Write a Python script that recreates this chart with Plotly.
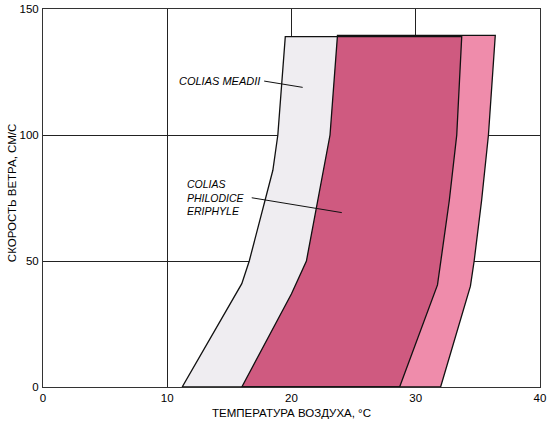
import plotly.graph_objects as go

# --- data ---
meadii_left_x = [11.2, 16.0, 16.6, 17.9, 18.5, 18.9, 19.2, 19.5]
meadii_left_y = [0, 41, 50, 74, 86, 100, 119, 139]
meadii_right_x = [28.7, 31.75, 32.0, 32.7, 33.3, 33.7]
meadii_right_y = [0, 40.5, 50, 74, 100, 139]

philo_left_x = [16.0, 20.0, 21.2, 22.1, 23.1, 23.7]
philo_left_y = [0, 37, 50, 74, 100, 139.5]
philo_right_x = [32.0, 34.4, 34.7, 35.3, 35.85, 36.4]
philo_right_y = [0, 40, 50, 74, 100, 139.5]

x_ticks = [0, 10, 20, 30, 40]
y_ticks = [0, 50, 100, 150]

label_meadii = "COLIAS MEADII"
label_meadii_pos = (17.6, 121.4)
label_meadii_line = ([17.8, 20.9], [121.4, 118.9])

label_philo = "COLIAS<br>PHILODICE<br>ERIPHYLE"
label_philo_pos = (11.4, 75.1)
label_philo_line = ([16.8, 24.05], [75.1, 69.2])

x_title = "ТЕМПЕРАТУРА ВОЗДУХА, °С"
y_title = "СКОРОСТЬ ВЕТРА, СМ/С"

# --- build polygons ---
def poly(lx, ly, rx, ry):
    xs = list(lx) + list(reversed(rx)) + [lx[0]]
    ys = list(ly) + list(reversed(ry)) + [ly[0]]
    return xs, ys

mx, my = poly(meadii_left_x, meadii_left_y, meadii_right_x, meadii_right_y)
px, py = poly(philo_left_x, philo_left_y, philo_right_x, philo_right_y)
ox, oy = poly(philo_left_x, philo_left_y, meadii_right_x, meadii_right_y)

fig = go.Figure()
fig.add_trace(go.Scatter(x=mx, y=my, fill="toself", fillcolor="#efedf1",
                         mode="lines", line=dict(width=0), hoverinfo="skip"))
fig.add_trace(go.Scatter(x=px, y=py, fill="toself", fillcolor="#ef8cab",
                         mode="lines", line=dict(width=0), hoverinfo="skip"))
fig.add_trace(go.Scatter(x=ox, y=oy, fill="toself", fillcolor="#cf5a80",
                         mode="lines", line=dict(width=0), hoverinfo="skip"))
# outlines
fig.add_trace(go.Scatter(x=mx, y=my, mode="lines",
                         line=dict(color="#111111", width=1.3), hoverinfo="skip"))
fig.add_trace(go.Scatter(x=px, y=py, mode="lines",
                         line=dict(color="#111111", width=1.3), hoverinfo="skip"))
# leader lines
for lxs, lys in (label_meadii_line, label_philo_line):
    fig.add_trace(go.Scatter(x=lxs, y=lys, mode="lines",
                             line=dict(color="#111111", width=1), hoverinfo="skip"))

fig.add_annotation(x=label_meadii_pos[0], y=label_meadii_pos[1], xref="x", yref="y",
                   text="<i>" + label_meadii + "</i>", showarrow=False,
                   xanchor="right", yanchor="middle",
                   font=dict(family="Liberation Sans, Arial", size=11, color="#000"))
fig.add_annotation(x=label_philo_pos[0], y=label_philo_pos[1], xref="x", yref="y",
                   text="<i>" + label_philo + "</i>", showarrow=False,
                   xanchor="left", yanchor="middle", align="left",
                   font=dict(family="Liberation Sans, Arial", size=10.5, color="#000"))

fig.add_annotation(x=0.5, y=-0.068, xref="paper", yref="paper", text=x_title,
                   showarrow=False, xanchor="center", yanchor="middle",
                   font=dict(family="Liberation Sans, Arial", size=11.5, color="#000"))
fig.add_annotation(x=-0.061, y=0.512, xref="paper", yref="paper", text=y_title,
                   showarrow=False, xanchor="center", yanchor="middle", textangle=-90,
                   font=dict(family="Liberation Sans, Arial", size=11.5, color="#000"))

axis_common = dict(showgrid=True, gridcolor="#222222", gridwidth=1,
                   showline=True, linecolor="#333333", linewidth=1, mirror=True,
                   zeroline=False, ticks="", fixedrange=True, automargin=False,
                   ticklabeloverflow="allow",
                   tickfont=dict(family="Liberation Sans, Arial", size=11.5, color="#000"))

fig.update_xaxes(range=[0, 40], tickvals=x_ticks, ticklabelstandoff=0, **axis_common)
fig.update_yaxes(range=[0, 150], tickvals=y_ticks, ticklabelstandoff=1, **axis_common)

fig.update_layout(width=550, height=425, showlegend=False,
                  margin=dict(l=43, r=10, t=9, b=38, autoexpand=False),
                  paper_bgcolor="white", plot_bgcolor="white")

# remove the page's default 8px body margin so the figure sits at the window origin
fig.write_html("out.html",
               config={"displayModeBar": False, "staticPlot": True},
               post_script="document.body.style.margin='0';document.body.style.overflow='hidden';")
